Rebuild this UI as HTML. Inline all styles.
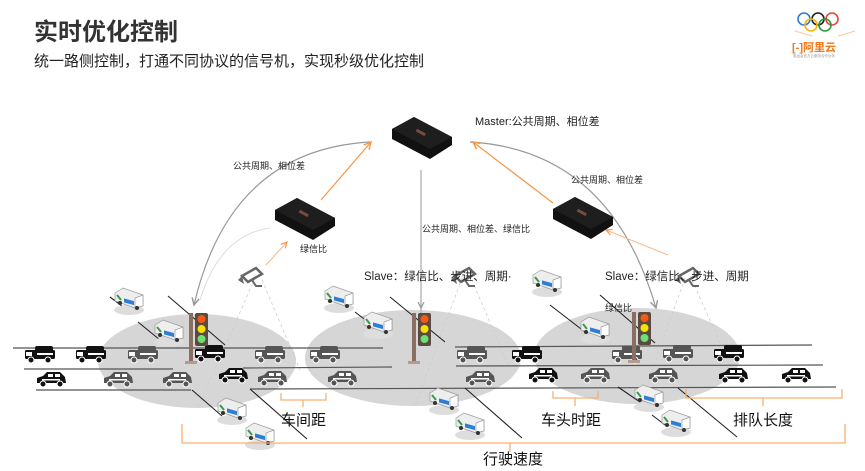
<!DOCTYPE html>
<html><head><meta charset="utf-8"><style>
html,body{margin:0;padding:0;background:#fff;}
svg{display:block;font-family:"Liberation Sans","Noto Sans CJK SC",sans-serif;}
</style></head><body>
<svg width="865" height="471" viewBox="0 0 865 471" xmlns="http://www.w3.org/2000/svg">
<defs>
<marker id="ag" markerWidth="8" markerHeight="8" refX="6" refY="4" orient="auto"><path d="M0,1 L6,4 L0,7" fill="none" stroke="#999" stroke-width="1.2"/></marker>
<marker id="ao" markerWidth="8" markerHeight="8" refX="6" refY="4" orient="auto"><path d="M0,1 L6,4 L0,7" fill="none" stroke="#f79646" stroke-width="1.2"/></marker>
<g id="truck"><rect x="0" y="4" width="30" height="9" rx="1.5" fill="currentColor"/><rect x="10" y="0" width="18" height="5" rx="2" fill="currentColor"/><rect x="1" y="6" width="6" height="4" fill="#fff"/><rect x="12" y="7" width="16" height="2" fill="#fff"/><circle cx="6" cy="14" r="3" fill="currentColor" stroke="#fff" stroke-width="1"/><circle cx="23" cy="14" r="3" fill="currentColor" stroke="#fff" stroke-width="1"/></g>
<g id="car"><path d="M1,12 L1,7 L7,5 L11,1 L24,1 L29,6 L30,12 Z" fill="currentColor"/><rect x="12" y="3" width="5" height="3" fill="#fff"/><rect x="19" y="3" width="5" height="3" fill="#fff"/><rect x="6" y="8" width="18" height="1.5" fill="#fff"/><circle cx="7" cy="13" r="3" fill="currentColor" stroke="#fff" stroke-width="1"/><circle cx="24" cy="13" r="3" fill="currentColor" stroke="#fff" stroke-width="1"/></g>
<g id="van"><ellipse cx="14" cy="22" rx="15" ry="5" fill="#ddd"/><path d="M0,5 L8,0 L28,7 L28,18 L20,20 L0,13 Z" fill="#eee" stroke="#999" stroke-width="0.7"/><path d="M28,7 L28,18 L20,20 L20,10 Z" fill="#fff" stroke="#999" stroke-width="0.7"/><rect x="9" y="8" width="10" height="4" fill="#2d7fd6" transform="skewY(15)"/><path d="M2,7 L6,12" stroke="#3a9a4a" stroke-width="2"/><circle cx="5" cy="15" r="2" fill="#333"/><circle cx="22" cy="20" r="2" fill="#333"/></g>
<g id="dev"><path d="M0,12 L22,0 L60,20 L60,28 L38,42 L0,22 Z" fill="#111"/><path d="M0,12 L22,0 L60,20 L38,32 Z" fill="#1e1e1e"/><rect x="24" y="14" width="10" height="3" fill="#7a4a3a" transform="rotate(28 29 15)"/></g>
<g id="cam"><path d="M4,12 L18,4 L24,10 L10,18 Z" fill="none" stroke="#666" stroke-width="2.5"/><path d="M0,16 L4,12 L6,20 Z" fill="#666"/><path d="M14,16 L18,22 L24,22" fill="none" stroke="#666" stroke-width="2"/></g>
<g id="light"><rect x="-3" y="0" width="4" height="50" fill="#8a6e62"/><rect x="-7" y="48" width="12" height="3" fill="#b49a90"/><rect x="3" y="0" width="13" height="33" rx="2" fill="#5a4a44"/><circle cx="9.5" cy="6" r="4" fill="#f55a10"/><circle cx="9.5" cy="16" r="4" fill="#f7e000"/><circle cx="9.5" cy="26" r="4" fill="#6ee070"/></g>
</defs>

<text x="34" y="40" font-size="24" font-weight="bold" fill="#333">实时优化控制</text>
<text x="34" y="66" font-size="15" fill="#222">统一路侧控制，打通不同协议的信号机，实现秒级优化控制</text>

<!-- logo -->
<g fill="none" stroke-width="1.6">
<circle cx="804" cy="19" r="6" stroke="#2e7bd6"/><circle cx="818" cy="19" r="6" stroke="#222"/><circle cx="832" cy="19" r="6" stroke="#e43"/>
<circle cx="811" cy="25" r="6" stroke="#f5b800"/><circle cx="825" cy="25" r="6" stroke="#2a9a40"/></g>
<path d="M795,31 L812,36 M838,36 L855,31" stroke="#f9c9a0" stroke-width="1"/>
<text x="792" y="51" font-size="11" font-weight="bold" fill="#f07818">[-]阿里云</text>
<text x="793" y="57" font-size="3.5" fill="#999">奥运会官方云服务合作伙伴</text>

<!-- ellipses -->
<ellipse cx="197" cy="361" rx="99" ry="47" fill="#d6d6d6"/>
<ellipse cx="413" cy="358" rx="108" ry="48" fill="#d6d6d6"/>
<ellipse cx="637" cy="356" rx="103" ry="48" fill="#d6d6d6"/>

<!-- dashed camera cones -->
<g stroke="#ccc" stroke-width="0.8" stroke-dasharray="3,3" fill="none">
<path d="M255,278 L197,410 M262,280 L300,370"/>
<path d="M462,278 L415,406 M472,280 L510,370"/>
<path d="M685,278 L640,404 M692,280 L730,365"/>
</g>

<!-- arcs -->
<path d="M370,142 Q230,150 194,305" fill="none" stroke="#999" stroke-width="1.2" marker-end="url(#ag)"/>
<path d="M470,142 Q610,150 656,308" fill="none" stroke="#999" stroke-width="1.2" marker-end="url(#ag)"/>
<path d="M270,228 Q220,235 200,300" fill="none" stroke="#ddd" stroke-width="1"/>
<line x1="421" y1="170" x2="421" y2="330" stroke="#aaa" stroke-width="1.2"/>
<line x1="421" y1="300" x2="421" y2="308" stroke="#999" marker-end="url(#ag)"/>
<!-- orange arrows -->
<line x1="321" y1="200" x2="371" y2="142" stroke="#f79646" stroke-width="1.2" marker-end="url(#ao)"/>
<line x1="553" y1="203" x2="473" y2="142" stroke="#f79646" stroke-width="1.2" marker-end="url(#ao)"/>
<line x1="266" y1="265" x2="287" y2="242" stroke="#f9b88a" stroke-width="1" marker-end="url(#ao)"/>
<line x1="668" y1="255" x2="606" y2="230" stroke="#f9b88a" stroke-width="1" marker-end="url(#ao)"/>

<use href="#dev" x="392" y="117"/>
<use href="#dev" x="275" y="198"/>
<use href="#dev" x="553" y="197"/>
<use href="#cam" x="238" y="264"/>
<use href="#cam" x="451" y="264"/>
<use href="#cam" x="675" y="264"/>

<g font-size="9" fill="#222">
<text x="475" y="125" font-size="11">Master:公共周期、相位差</text>
<text x="233" y="169">公共周期、相位差</text>
<text x="571" y="183">公共周期、相位差</text>
<text x="422" y="232">公共周期、相位差、绿信比</text>
<text x="300" y="252">绿信比</text>
<text x="364" y="280" font-size="11.5">Slave：绿信比、步进、周期·</text>
<text x="605" y="280" font-size="11.5">Slave：绿信比、步进、周期</text>
<text x="605" y="311">绿信比</text>
</g>

<!-- roads -->
<g stroke="#555" stroke-width="1.2">
<line x1="13" y1="348" x2="383" y2="348"/><line x1="455" y1="347" x2="812" y2="345"/>
<line x1="24" y1="369" x2="173" y2="369"/><line x1="243" y1="368" x2="392" y2="367"/><line x1="456" y1="366" x2="823" y2="365"/>
<line x1="36" y1="390" x2="191" y2="390"/><line x1="250" y1="389" x2="836" y2="387"/>
</g>
<g stroke="#222" stroke-width="1.1">
<line x1="168" y1="296" x2="225" y2="345"/><line x1="250" y1="389" x2="307" y2="439"/>
<line x1="138" y1="322" x2="160" y2="340"/><line x1="110" y1="297" x2="122" y2="306"/>
<line x1="192" y1="390" x2="222" y2="416"/><line x1="390" y1="297" x2="445" y2="342"/>
<line x1="465" y1="388" x2="522" y2="438"/><line x1="330" y1="297" x2="345" y2="308"/>
<line x1="355" y1="312" x2="372" y2="325"/><line x1="600" y1="295" x2="655" y2="343"/>
<line x1="678" y1="388" x2="737" y2="437"/><line x1="618" y1="387" x2="640" y2="402"/>
<line x1="550" y1="305" x2="585" y2="332"/><line x1="652" y1="415" x2="665" y2="425"/>
</g>

<!-- vehicles -->
<g color="#111"><use href="#truck" x="25" y="346"/><use href="#truck" x="76" y="346"/><use href="#car" x="36" y="371"/><use href="#truck" x="195" y="345"/><use href="#car" x="218" y="367"/><use href="#truck" x="512" y="346"/><use href="#car" x="528" y="367"/><use href="#truck" x="714" y="345"/><use href="#car" x="718" y="367"/><use href="#car" x="781" y="367"/></g>
<g color="#555"><use href="#truck" x="128" y="346"/><use href="#car" x="103" y="371"/><use href="#car" x="162" y="371"/><use href="#truck" x="255" y="346"/><use href="#car" x="257" y="370"/><use href="#truck" x="310" y="346"/><use href="#car" x="327" y="370"/><use href="#car" x="465" y="370"/><use href="#car" x="580" y="367"/><use href="#truck" x="457" y="346"/><use href="#truck" x="612" y="346"/><use href="#truck" x="663" y="345"/><use href="#car" x="648" y="367"/></g>
<use href="#van" x="115" y="288"/><use href="#van" x="155" y="320"/><use href="#van" x="218" y="398"/><use href="#van" x="246" y="423"/>
<use href="#van" x="325" y="286"/><use href="#van" x="364" y="312"/><use href="#van" x="430" y="388"/><use href="#van" x="456" y="413"/>
<use href="#van" x="533" y="270"/><use href="#van" x="581" y="317"/><use href="#van" x="635" y="385"/><use href="#van" x="662" y="410"/>

<use href="#light" x="192" y="313"/>
<use href="#light" x="415" y="313"/>
<use href="#light" x="635" y="312"/>

<!-- braces -->
<g fill="none" stroke="#f9b070" stroke-width="1.3">
<path d="M281,393 L281,400 L303,400 L303,407 M303,400 L326,400 L326,393"/>
<path d="M553,391 L553,398 L575,398 L575,406 M575,398 L598,398 L598,391"/>
<path d="M686,389 L686,398 L763,398 L763,406 M763,398 L842,398 L842,389"/>
<path d="M182,424 L182,443 L510,443 L510,452 M510,443 L845,443 L845,424"/>
</g>
<g font-size="15" fill="#111">
<text x="281" y="425">车间距</text>
<text x="541" y="425">车头时距</text>
<text x="733" y="425">排队长度</text>
<text x="483" y="464">行驶速度</text>
</g>
</svg>
</body></html>
